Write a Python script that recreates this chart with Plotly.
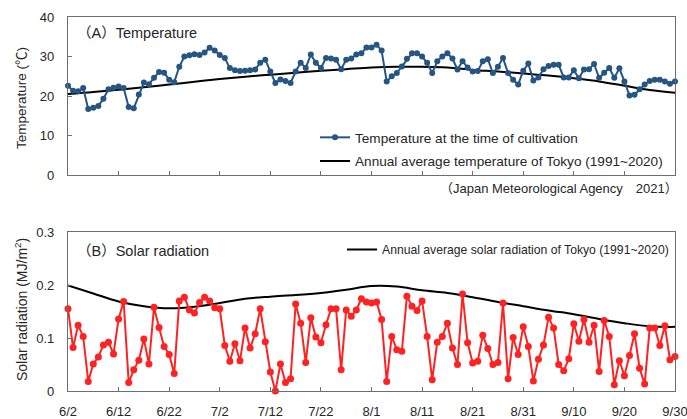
import plotly.graph_objects as go
import pandas as pd

# ---------------- data ----------------
dates = pd.date_range("2021-06-02", "2021-09-30", freq="D")
avg_dates = pd.date_range("2021-06-02", "2021-09-30", freq="5D")
tick_dates = pd.date_range("2021-06-02", "2021-09-30", freq="10D")
tick_labels = ["6/2", "6/12", "6/22", "7/2", "7/12", "7/22", "8/1",
               "8/11", "8/21", "8/31", "9/10", "9/20", "9/30"]

temperature = [
    22.6, 21.3, 21.2, 22.0, 16.7, 17.0, 17.5, 19.3, 21.7, 22.1,
    22.4, 22.0, 17.2, 16.9, 20.4, 23.4, 23.0, 24.6, 26.1, 25.9,
    24.1, 23.5, 27.4, 30.0, 30.3, 30.6, 30.4, 31.0, 32.2, 31.5,
    30.4, 29.6, 27.1, 26.5, 26.3, 26.4, 26.5, 26.7, 28.4, 29.2,
    26.2, 23.3, 24.2, 23.8, 23.3, 26.2, 28.4, 27.1, 30.5, 28.4,
    27.1, 29.6, 29.5, 29.2, 26.8, 29.2, 29.5, 30.5, 30.8, 32.3,
    32.3, 33.0, 31.5, 23.7, 25.0, 25.8, 27.5, 29.4, 30.8, 30.8,
    30.0, 28.4, 25.8, 28.8, 30.0, 30.8, 29.5, 26.7, 28.8, 27.2,
    26.2, 26.3, 28.8, 29.3, 25.8, 27.4, 29.6, 25.8, 24.1, 22.9,
    26.4, 28.2, 23.9, 24.7, 26.8, 27.6, 27.9, 27.9, 24.7, 24.7,
    26.5, 24.5, 26.7, 26.8, 28.1, 24.6, 25.9, 27.1, 24.6, 27.0,
    23.7, 20.1, 20.3, 21.7, 22.9, 23.8, 24.1, 24.1, 23.7, 23.1,
    23.7,
]

temp_avg = [
    20.5, 21.0, 21.6, 22.2, 22.9, 23.6, 24.3, 24.9, 25.4, 25.9,
    26.4, 26.8, 27.2, 27.4, 27.4, 27.2, 26.6, 26.2, 25.7, 25.2,
    24.5, 23.7, 22.6, 21.5, 20.8,
]

radiation = [
    0.155, 0.082, 0.124, 0.103, 0.018, 0.051, 0.064, 0.087, 0.092, 0.070,
    0.136, 0.169, 0.016, 0.040, 0.058, 0.098, 0.051, 0.158, 0.120, 0.084,
    0.069, 0.033, 0.170, 0.177, 0.153, 0.147, 0.167, 0.177, 0.170, 0.157,
    0.155, 0.086, 0.056, 0.089, 0.057, 0.119, 0.081, 0.108, 0.155, 0.093,
    0.036, 0.000, 0.051, 0.016, 0.023, 0.164, 0.128, 0.054, 0.138, 0.102,
    0.091, 0.125, 0.155, 0.155, 0.040, 0.153, 0.141, 0.153, 0.174, 0.168,
    0.166, 0.168, 0.135, 0.018, 0.103, 0.078, 0.075, 0.179, 0.160, 0.152,
    0.170, 0.103, 0.021, 0.092, 0.103, 0.128, 0.081, 0.050, 0.183, 0.091,
    0.053, 0.056, 0.105, 0.080, 0.050, 0.054, 0.166, 0.023, 0.101, 0.069,
    0.121, 0.084, 0.019, 0.060, 0.087, 0.139, 0.119, 0.050, 0.038, 0.061,
    0.127, 0.094, 0.135, 0.092, 0.124, 0.037, 0.133, 0.103, 0.012, 0.057,
    0.029, 0.067, 0.108, 0.043, 0.013, 0.119, 0.119, 0.086, 0.123, 0.059,
    0.065,
]

rad_avg = [
    0.199, 0.184, 0.169, 0.160, 0.156, 0.159, 0.166, 0.174, 0.178, 0.181,
    0.185, 0.191, 0.198, 0.197, 0.190, 0.185, 0.177, 0.168, 0.160, 0.152,
    0.145, 0.136, 0.128, 0.122, 0.121,
]

temp_name = "Temperature at the time of cultivation"
temp_avg_name = "Annual average temperature of Tokyo (1991~2020)"
rad_avg_name = "Annual average solar radiation of Tokyo (1991~2020)"

# ---------------- styling ----------------
W, H = 687, 419
BLUE = "#255583"
RED = "#ff2222"
AXC = "#6e6e6e"
FONT = "Liberation Sans, Arial, Noto Sans CJK JP"

def px_x(p):
    return p / W

def px_y(p):
    return 1 - p / H

xdom = [px_x(68), px_x(675)]
ydom_top = [px_y(175), px_y(17)]
ydom_bot = [px_y(391), px_y(232)]
xrange_ = [dates[0].strftime("%Y-%m-%d"), dates[-1].strftime("%Y-%m-%d")]

fig = go.Figure()

fig.add_trace(go.Scatter(
    x=avg_dates, y=temp_avg, mode="lines", name=temp_avg_name,
    line=dict(color="black", width=2, shape="spline"),
    xaxis="x", yaxis="y", legend="legend", legendrank=2, legendgroup="b",
))
fig.add_trace(go.Scatter(
    x=dates, y=temperature, mode="lines+markers", name=temp_name,
    line=dict(color=BLUE, width=2), marker=dict(size=6, color=BLUE),
    xaxis="x", yaxis="y", legend="legend", legendrank=1, legendgroup="a",
    cliponaxis=False,
))
fig.add_trace(go.Scatter(
    x=avg_dates, y=rad_avg, mode="lines", name=rad_avg_name,
    line=dict(color="black", width=2, shape="spline"),
    xaxis="x2", yaxis="y2", legend="legend2",
))
fig.add_trace(go.Scatter(
    x=dates, y=radiation, mode="lines+markers", showlegend=False,
    line=dict(color=RED, width=2), marker=dict(size=7, color=RED),
    xaxis="x2", yaxis="y2", cliponaxis=False,
))

axis_common = dict(showline=True, linecolor=AXC, linewidth=1.2, mirror=True,
                   showgrid=False, zeroline=False, ticks="inside", ticklen=4,
                   tickcolor=AXC, automargin=False)

fig.update_layout(
    width=W, height=H,
    margin=dict(l=0, r=0, t=0, b=0),
    paper_bgcolor="white", plot_bgcolor="white",
    font=dict(family=FONT, size=13, color="#262626"),
    xaxis=dict(domain=xdom, anchor="y", range=xrange_, tickvals=tick_dates,
               showticklabels=False, **axis_common),
    yaxis=dict(domain=ydom_top, anchor="x", range=[0, 40],
               tickvals=[0, 10, 20, 30, 40], ticklabelstandoff=10,
               **axis_common),
    xaxis2=dict(domain=xdom, anchor="y2", range=xrange_, tickvals=tick_dates,
                ticktext=tick_labels, ticklabelstandoff=8,
                ticklabeloverflow="allow", **axis_common),
    yaxis2=dict(domain=ydom_bot, anchor="x2", range=[0, 0.3],
                tickvals=[0, 0.1, 0.2, 0.3], ticktext=["0", "0.1", "0.2", "0.3"],
                ticklabelstandoff=10, **axis_common),
    legend=dict(x=px_x(315), y=px_y(122), xanchor="left", yanchor="top",
                bgcolor="rgba(0,0,0,0)", font=dict(size=13.6),
                tracegroupgap=3, traceorder="grouped"),
    legend2=dict(x=px_x(342), y=px_y(235), xanchor="left", yanchor="top",
                 bgcolor="rgba(0,0,0,0)", font=dict(size=12.2)),
    annotations=[
        dict(text="（A）Temperature", x=px_x(75), y=px_y(33), xref="paper",
             yref="paper", xanchor="left", yanchor="middle", showarrow=False,
             font=dict(size=14.5)),
        dict(text="（B）Solar radiation", x=px_x(75), y=px_y(251), xref="paper",
             yref="paper", xanchor="left", yanchor="middle", showarrow=False,
             font=dict(size=14.5)),
        dict(text="（Japan Meteorological Agency　2021）", x=px_x(680), y=px_y(189),
             xref="paper", yref="paper", xanchor="right", yanchor="middle",
             showarrow=False, font=dict(size=13)),
        dict(text="Temperature (℃)", x=px_x(22), y=px_y(98), xref="paper",
             yref="paper", xanchor="center", yanchor="middle", showarrow=False,
             textangle=-90, font=dict(size=13.5)),
        dict(text="Solar radiation (MJ/m<sup>2</sup>)", x=px_x(21), y=px_y(310),
             xref="paper", yref="paper", xanchor="center", yanchor="middle",
             showarrow=False, textangle=-90, font=dict(size=14)),
    ],
)

fig.write_html("out.html")
